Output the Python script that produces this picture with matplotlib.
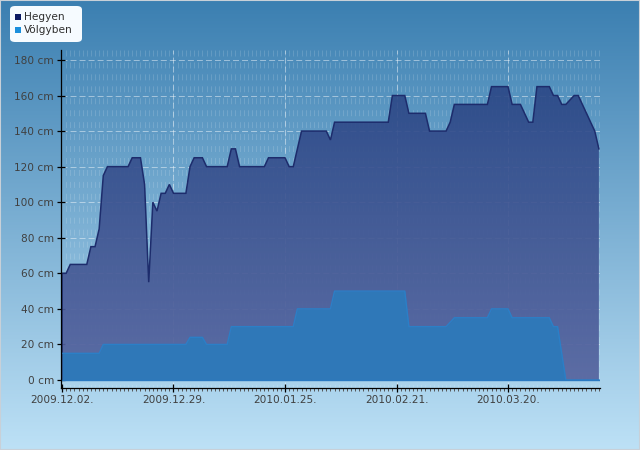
import numpy as np
import matplotlib
matplotlib.use('Agg')
import matplotlib.pyplot as plt
from matplotlib.patches import FancyBboxPatch, Rectangle, Polygon
from matplotlib.colors import LinearSegmentedColormap

plt.rcParams['lines.scale_dashes'] = False
plt.rcParams['font.family'] = ['DejaVu Sans']

# ---------------- data ----------------
start_date = '2009-12-02'
tick_dates = ['2009-12-02', '2009-12-29', '2010-01-25', '2010-02-21', '2010-03-20']
tick_labels = ['2009.12.02.', '2009.12.29.', '2010.01.25.', '2010.02.21.', '2010.03.20.']
y_ticks = [0, 20, 40, 60, 80, 100, 120, 140, 160, 180]
y_tick_labels = ['0 cm', '20 cm', '40 cm', '60 cm', '80 cm', '100 cm',
                 '120 cm', '140 cm', '160 cm', '180 cm']

hegyen_dates = ['2009-12-02', '2009-12-03', '2009-12-04', '2009-12-08', '2009-12-09',
                '2009-12-10', '2009-12-11', '2009-12-12', '2009-12-13', '2009-12-18',
                '2009-12-19', '2009-12-21', '2009-12-22', '2009-12-23', '2009-12-24',
                '2009-12-25', '2009-12-26', '2009-12-27', '2009-12-28', '2009-12-29',
                '2010-01-01', '2010-01-02', '2010-01-03', '2010-01-05', '2010-01-06',
                '2010-01-11', '2010-01-12', '2010-01-13', '2010-01-14', '2010-01-20',
                '2010-01-21', '2010-01-25', '2010-01-26', '2010-01-27', '2010-01-29',
                '2010-02-04', '2010-02-05', '2010-02-06', '2010-02-19', '2010-02-20',
                '2010-02-23', '2010-02-24', '2010-02-28', '2010-03-01', '2010-03-05',
                '2010-03-06', '2010-03-07', '2010-03-15', '2010-03-16', '2010-03-20',
                '2010-03-21', '2010-03-23', '2010-03-25', '2010-03-26', '2010-03-27',
                '2010-03-30', '2010-03-31', '2010-04-01', '2010-04-02', '2010-04-03',
                '2010-04-05', '2010-04-06', '2010-04-10', '2010-04-11']
hegyen_values = [60, 60, 65, 65, 75,
                 75, 85, 115, 120, 120,
                 125, 125, 110, 55, 100,
                 95, 105, 105, 110, 105,
                 105, 120, 125, 125, 120,
                 120, 130, 130, 120, 120,
                 125, 125, 120, 120, 140,
                 140, 135, 145, 145, 160,
                 160, 150, 150, 140, 140,
                 145, 155, 155, 165, 165,
                 155, 155, 145, 145, 165,
                 165, 160, 160, 155, 155,
                 160, 160, 140, 130]

volgyben_dates = ['2009-12-02', '2009-12-11', '2009-12-12', '2010-01-01', '2010-01-02',
                  '2010-01-05', '2010-01-06', '2010-01-11', '2010-01-12', '2010-01-27',
                  '2010-01-28', '2010-02-05', '2010-02-06', '2010-02-23', '2010-02-24',
                  '2010-03-05', '2010-03-07', '2010-03-15', '2010-03-16', '2010-03-20',
                  '2010-03-21', '2010-03-30', '2010-03-31', '2010-04-01', '2010-04-03',
                  '2010-04-11']
volgyben_values = [15, 15, 20, 20, 24,
                   24, 20, 20, 30, 30,
                   40, 40, 50, 50, 30,
                   30, 35, 35, 40, 40,
                   35, 35, 30, 30, 0,
                   0]

series_names = ['Hegyen', 'Völgyben']

# ---------------- conversion ----------------
t0 = np.datetime64(start_date)
def to_days(ds):
    return (np.array(ds, dtype='datetime64[D]') - t0).astype(int)

hx = to_days(hegyen_dates); hy = np.array(hegyen_values, float)
vx = to_days(volgyben_dates); vy = np.array(volgyben_values, float)
tx = to_days(tick_dates)

W, H = 640, 450
fig = plt.figure(figsize=(W/100, H/100), dpi=100)

# background gradient
bg = fig.add_axes([0, 0, 1, 1], zorder=-10)
bg_cmap = LinearSegmentedColormap.from_list('bg', ['#3b7fb1', '#bde1f6'])
bg.imshow(np.linspace(0, 1, 256).reshape(-1, 1), cmap=bg_cmap, aspect='auto',
          extent=[0, 1, 0, 1], origin='upper')
bg.set_axis_off()

ax = fig.add_axes([61/W, 1-388/H, (600-61)/W, (388-50)/H])
ax.set_facecolor('none')
xmin, xmax = -0.24, 130.27
ymin, ymax = -4.5, 185.6

# grid (under the fills)
for v in y_ticks[1:]:
    ax.axhline(v, color='white', alpha=0.45, lw=0.75, ls=(0, (4.3, 2.2)), zorder=1)
for t in tx[1:]:
    ax.axvline(t, color='white', alpha=0.45, lw=0.75, ls=(0, (4.3, 2.2)), zorder=1)
minor_days = np.arange(1, 131)
ax.vlines(minor_days, ymax, ymin, colors='white', alpha=0.14, lw=0.75,
          linestyles=[(0, (4.3, 4.3))], zorder=1)

# Hegyen area with gradient
verts = np.column_stack([np.r_[hx, hx[-1], hx[0]], np.r_[hy, 0, 0]])
poly = Polygon(verts, closed=True, facecolor='none', edgecolor='none')
ax.add_patch(poly)
h_cmap = LinearSegmentedColormap.from_list('h', ['#55639e', '#274584'])
im = ax.imshow(np.linspace(1, 0, 256).reshape(-1, 1), cmap=h_cmap, aspect='auto',
               extent=[xmin, xmax, 0, 185], origin='upper', alpha=0.92,
               interpolation='bilinear', zorder=2)
im.set_clip_path(poly)
ax.plot(np.r_[hx[0], hx], np.r_[0, hy], color='#1d2c6c', lw=1.1, zorder=4,
        solid_joinstyle='miter')

# Völgyben area
ax.fill_between(vx, vy, 0, color='#2f78b8', lw=0, zorder=5)
ax.plot(vx, vy, color='#2b7fc7', lw=1.0, zorder=6)
ax.plot([vx[0], vx[-1]], [0, 0], color='#2a79c2', lw=1.0, zorder=6)

ax.set_xlim(xmin, xmax)
ax.set_ylim(ymin, ymax)

for s in ['top', 'right']:
    ax.spines[s].set_visible(False)
for s in ['left', 'bottom']:
    ax.spines[s].set_color('black')
    ax.spines[s].set_linewidth(0.9)
    ax.spines[s].set_zorder(8)

ax.set_yticks(y_ticks)
ax.set_yticklabels(y_tick_labels)
ax.set_xticks(tx)
ax.set_xticklabels(tick_labels)
ax.set_xticks(minor_days, minor=True)
ax.tick_params(axis='both', which='major', direction='inout', length=6, width=0.9,
               color='black', labelsize=7.6, labelcolor='#404040', pad=2)
ax.tick_params(axis='x', which='minor', direction='out', length=2.5, width=0.7,
               color='#555555')

# legend
fig.patches.append(FancyBboxPatch((10/W, 1-42/H), 72/W, 36/H,
                                  boxstyle='round,pad=0,rounding_size=0.008',
                                  transform=fig.transFigure, facecolor='#f6fbff',
                                  edgecolor='none', zorder=10))
leg_colors = ['#0c1a62', '#1b8fdc']
leg_y = [17, 30]
for name, c, yy in zip(series_names, leg_colors, leg_y):
    fig.patches.append(Rectangle((15/W, 1-(yy+3)/H), 6/W, 6/H, transform=fig.transFigure,
                                 facecolor=c, edgecolor='none', zorder=11))
    fig.text(24/W, 1-yy/H, name, fontsize=7.6, color='#303030', va='center',
             ha='left', zorder=12)

# figure border
fig.patches.append(Rectangle((0, 0), 1, 1, transform=fig.transFigure, fill=False,
                             edgecolor='#c8d0d8', lw=1.5, zorder=20))

fig.savefig('out.png', dpi=100)
